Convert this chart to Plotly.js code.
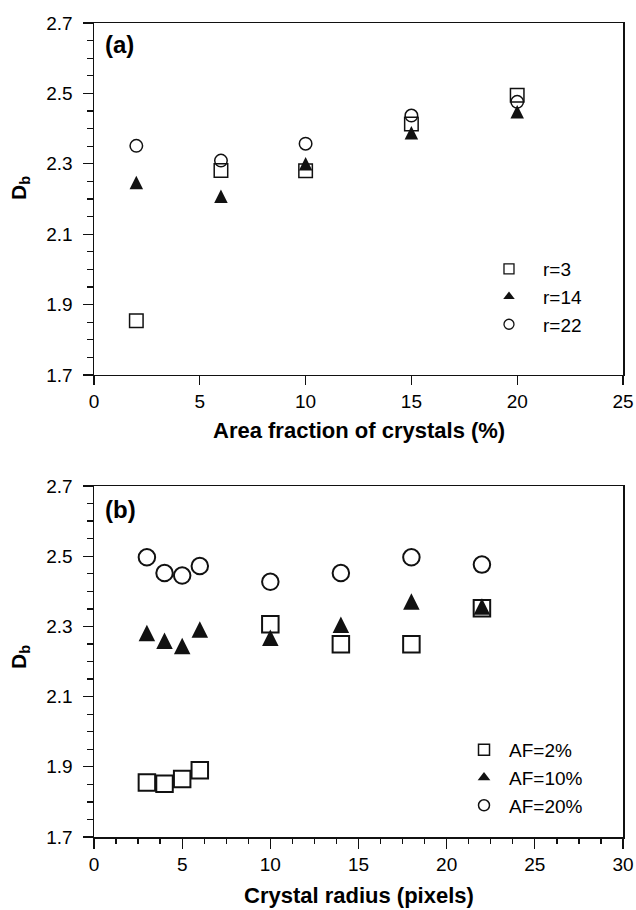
<!DOCTYPE html>
<html>
<head>
<meta charset="utf-8">
<script src="https://cdn.plot.ly/plotly-3.0.1.min.js"></script>
<style>html,body{margin:0;padding:0;background:#fff;}#chart{width:636px;height:910px;}</style>
</head>
<body>
<div id="chart"></div>
<script>
// Panel (a): D_b vs area fraction of crystals
const areaFraction = [2, 6, 10, 15, 20];
const dbR3  = [1.854, 2.281, 2.280, 2.413, 2.495];
const dbR14 = [2.247, 2.208, 2.300, 2.388, 2.448];
const dbR22 = [2.351, 2.309, 2.357, 2.437, 2.476];

// Panel (b): D_b vs crystal radius
const crystalRadius = [3, 4, 5, 6, 10, 14, 18, 22];
const dbAF2  = [1.855, 1.852, 1.865, 1.890, 2.306, 2.249, 2.249, 2.352];
const dbAF10 = [2.281, 2.259, 2.244, 2.291, 2.268, 2.305, 2.371, 2.357];
const dbAF20 = [2.497, 2.452, 2.445, 2.472, 2.427, 2.452, 2.497, 2.476];

const legendA = ['r=3', 'r=14', 'r=22'];
const legendB = ['AF=2%', 'AF=10%', 'AF=20%'];

const FONT = 'Arial, "Liberation Sans", sans-serif';
const INK = '#111';

// data marks (not in legend)
function sq(x, y, xa, ya, size, lw) {
  return {x, y, xaxis: xa, yaxis: ya, type: 'scatter', mode: 'markers', showlegend: false,
    marker: {symbol: 'square-open', size, color: INK, line: {width: lw, color: INK}}};
}
function ci(x, y, xa, ya, size, lw) {
  return {x, y, xaxis: xa, yaxis: ya, type: 'scatter', mode: 'markers', showlegend: false,
    marker: {symbol: 'circle-open', size, color: INK, line: {width: lw, color: INK}}};
}
// near-equilateral filled triangle, centred on the point
function tri(x, y, xa, ya, size) {
  return {x, y, xaxis: xa, yaxis: ya, type: 'scatter', mode: 'markers', showlegend: false,
    marker: {symbol: 'arrow-down', angle: 180, standoff: size / 2, size, color: INK, line: {width: 0}}};
}
// legend keys (a single empty point, nothing drawn in the plot)
function key(name, leg, xa, ya, symbol, size, lw) {
  return {x: [null], y: [null], name, legend: leg, xaxis: xa, yaxis: ya, type: 'scatter', mode: 'markers',
    showlegend: true, hoverinfo: 'skip',
    marker: {symbol, size, color: INK, line: {width: lw, color: INK}}};
}

const data = [
  sq(areaFraction, dbR3, 'x', 'y', 13.5, 1.5),
  tri(areaFraction, dbR14, 'x', 'y', 13.5),
  ci(areaFraction, dbR22, 'x', 'y', 12.5, 1.5),
  sq(crystalRadius, dbAF2, 'x2', 'y2', 16.5, 2),
  tri(crystalRadius, dbAF10, 'x2', 'y2', 16.5),
  ci(crystalRadius, dbAF20, 'x2', 'y2', 16.5, 2),
  key(legendA[0], 'legend', 'x', 'y', 'square-open', 10, 1.3),
  key(legendA[1], 'legend', 'x', 'y', 'triangle-up', 10, 0),
  key(legendA[2], 'legend', 'x', 'y', 'circle-open', 10, 1.3),
  key(legendB[0], 'legend2', 'x2', 'y2', 'square-open', 11, 1.5),
  key(legendB[1], 'legend2', 'x2', 'y2', 'triangle-up', 11, 0),
  key(legendB[2], 'legend2', 'x2', 'y2', 'circle-open', 11, 1.5)
];

const tickFont = {family: FONT, size: 19, color: '#000'};
function yax(domain, anchor) {
  return {domain, anchor, range: [1.7, 2.7], tickmode: 'array',
    tickvals: [1.7, 1.9, 2.1, 2.3, 2.5, 2.7], ticktext: ['1.7', '1.9', '2.1', '2.3', '2.5', '2.7'],
    ticks: 'outside', ticklen: 10, tickwidth: 1.3, tickcolor: INK,
    minor: {dtick: 0.05, tick0: 1.7, ticks: 'outside', ticklen: 6, tickwidth: 1.3, tickcolor: INK, showgrid: false},
    showline: true, linecolor: INK, linewidth: 1.5, mirror: true, showgrid: false, zeroline: false,
    tickfont: tickFont, ticklabelstandoff: 6, fixedrange: true};
}

const layout = {
  width: 636, height: 910,
  margin: {l: 94, r: 13, t: 23, b: 73},
  paper_bgcolor: '#fff', plot_bgcolor: '#fff',
  font: {family: FONT, color: '#000'},
  xaxis: {domain: [0, 1], anchor: 'y', range: [0, 25], dtick: 5, tick0: 0,
    ticks: 'outside', ticklen: 9, tickwidth: 1.3, tickcolor: INK,
    showline: true, linecolor: INK, linewidth: 1.5, mirror: true, showgrid: false, zeroline: false,
    tickfont: tickFont, fixedrange: true},
  yaxis: yax([0.5676, 1], 'x'),
  xaxis2: {domain: [0, 1], anchor: 'y2', range: [0, 30], dtick: 5, tick0: 0,
    ticks: 'outside', ticklen: 10, tickwidth: 1.3, tickcolor: INK,
    minor: {dtick: 1.25, tick0: 0, ticks: 'outside', ticklen: 5, tickwidth: 1.3, tickcolor: INK, showgrid: false},
    showline: true, linecolor: INK, linewidth: 1.5, mirror: true, showgrid: false, zeroline: false,
    tickfont: tickFont, fixedrange: true},
  yaxis2: yax([0, 0.4312], 'x2'),
  legend: {x: 0.7202, y: 0.7211, xanchor: 'left', yanchor: 'top', bgcolor: 'rgba(0,0,0,0)',
    itemwidth: 58, font: {family: FONT, size: 19, color: '#000'}, itemsizing: 'trace', tracegroupgap: 0},
  legend2: {x: 0.690, y: 0.1302, xanchor: 'left', yanchor: 'top', bgcolor: 'rgba(0,0,0,0)',
    itemwidth: 40, font: {family: FONT, size: 19, color: '#000'}, itemsizing: 'trace', tracegroupgap: 0},
  annotations: [
    {text: '<b>(a)</b>', xref: 'paper', yref: 'paper', x: 0.017, y: (837 - 45) / 814, xanchor: 'left', yanchor: 'middle',
      showarrow: false, font: {family: FONT, size: 24, color: '#000'}},
    {text: '<b>(b)</b>', xref: 'paper', yref: 'paper', x: 0.017, y: (837 - 510) / 814, xanchor: 'left', yanchor: 'middle',
      showarrow: false, font: {family: FONT, size: 24, color: '#000'}},
    {text: '<b>Area fraction of crystals (%)</b>', xref: 'paper', yref: 'paper', x: 0.5, y: (837 - 431) / 814,
      xanchor: 'center', yanchor: 'middle', showarrow: false, font: {family: FONT, size: 22, color: '#000'}},
    {text: '<b>Crystal radius (pixels)</b>', xref: 'paper', yref: 'paper', x: 0.5, y: (837 - 895) / 814,
      xanchor: 'center', yanchor: 'middle', showarrow: false, font: {family: FONT, size: 22, color: '#000'}},
    {text: '<b>D<sub>b</sub></b>', xref: 'paper', yref: 'paper', x: (20 - 94) / 529, y: (837 - 188) / 814,
      xanchor: 'center', yanchor: 'middle', textangle: -90, showarrow: false, font: {family: FONT, size: 21, color: '#000'}},
    {text: '<b>D<sub>b</sub></b>', xref: 'paper', yref: 'paper', x: (20 - 94) / 529, y: (837 - 657) / 814,
      xanchor: 'center', yanchor: 'middle', textangle: -90, showarrow: false, font: {family: FONT, size: 21, color: '#000'}}
  ],
  showlegend: true
};

Plotly.newPlot('chart', data, layout, {displayModeBar: false, staticPlot: true});
</script>
</body>
</html>
